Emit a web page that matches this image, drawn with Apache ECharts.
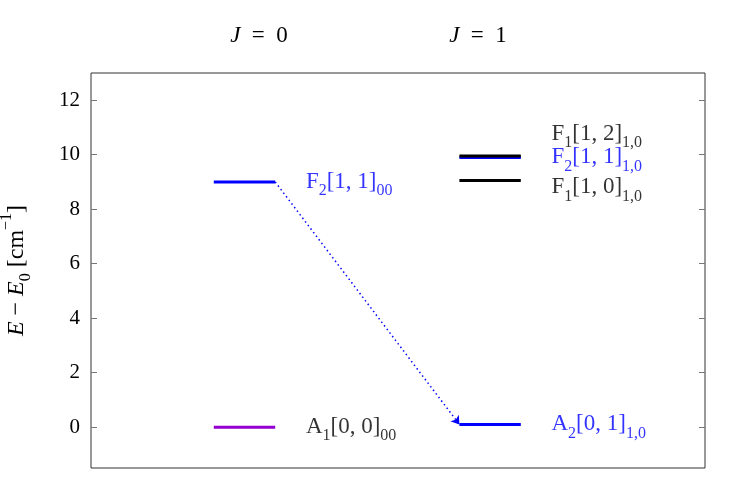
<!DOCTYPE html>
<html>
<head>
<meta charset="utf-8">
<script src="https://cdn.jsdelivr.net/npm/echarts@6/dist/echarts.min.js"></script>
<style>
  html, body { margin: 0; padding: 0; background: #fff; }
  #chart { width: 748px; height: 498px; }
</style>
</head>
<body>
<div id="chart"></div>
<script>
// energy levels (cm^-1) grouped by J
var levelJ = [0, 0, 1, 1, 1, 1];
var levelEnergy = [0.0, 9.0, 0.1, 9.05, 9.9, 9.95];
var levelSym = ['A', 'F', 'A', 'F', 'F', 'F'];
var levelSymSub = ['1', '2', '2', '1', '2', '1'];
var levelQuanta = ['[0, 0]', '[1, 1]', '[0, 1]', '[1, 0]', '[1, 1]', '[1, 2]'];
var levelSub = ['00', '00', '1,0', '1,0', '1,0', '1,0'];
var labelEnergy = [0.0, 9.0, 0.1, 8.8, 9.9, 10.75]; // shifted a bit where labels crowd
var transitions = [[1, 2]]; // F2[1,1]00 -> A2[0,1]1,0
var jLabels = ['0', '1'];
var yTicks = [0, 2, 4, 6, 8, 10, 12];

var levelColors = ['#9400d3', '#0000ff', '#0000ff', '#000000', '#0000ff', '#000000'];
var textColors = ['#000000', '#0000ff', '#0000ff', '#000000', '#0000ff', '#000000'];
var FONT = 'Liberation Serif';

var chart = echarts.init(document.getElementById('chart'));

function richFor(c) {
  return {
    m: { fontFamily: FONT, fontSize: 23, lineHeight: 24, color: c },
    s: { fontFamily: FONT, fontSize: 16, lineHeight: 16, color: c, verticalAlign: 'bottom', padding: [0, 0, -5, 0] }
  };
}

var series = [];
levelEnergy.forEach(function (e, i) {
  var x0 = 2 + 4 * levelJ[i];
  series.push({
    type: 'line',
    data: [[x0, e], [x0 + 1, e]],
    symbol: 'none',
    silent: true,
    animation: false,
    lineStyle: { color: levelColors[i], width: 3 }
  });
});

series.push({
  type: 'scatter',
  symbolSize: 0,
  silent: true,
  animation: false,
  data: levelEnergy.map(function (e, i) {
    return {
      value: [3.5 + 4 * levelJ[i], labelEnergy[i]],
      label: {
        show: true,
        position: 'right',
        distance: 0,
        color: textColors[i],
        formatter: '{m|' + levelSym[i] + '}{s|' + levelSymSub[i] + '}{m|' +
          levelQuanta[i] + '}{s|' + levelSub[i] + '}',
        rich: richFor(textColors[i])
      }
    };
  })
});

series.push({
  type: 'lines',
  coordinateSystem: 'cartesian2d',
  silent: true,
  animation: false,
  symbol: ['none', 'arrow'],
  symbolSize: 8,
  lineStyle: { color: '#0000ff', width: 1.5, type: [1.5, 3], opacity: 1 },
  data: transitions.map(function (t) {
    return {
      coords: [
        [3 + 4 * levelJ[t[0]], levelEnergy[t[0]]],
        [2 + 4 * levelJ[t[1]], levelEnergy[t[1]]]
      ]
    };
  })
});

chart.setOption({
  animation: false,
  grid: {
    left: 91, right: 43, top: 73, bottom: 30,
    outerBoundsMode: 'none',
    show: true, borderColor: '#333', borderWidth: 1
  },
  xAxis: {
    type: 'value', min: 0, max: 10,
    axisLine: { show: false }, axisTick: { show: false },
    axisLabel: { show: false }, splitLine: { show: false }
  },
  yAxis: [{
    type: 'value', min: -1.5, max: 13, position: 'left',
    axisLine: { show: false },
    splitLine: { show: false },
    axisTick: { inside: true, length: 6, customValues: yTicks, lineStyle: { color: '#777' } },
    axisLabel: { customValues: yTicks, fontFamily: FONT, fontSize: 21, color: '#000', margin: 11 },
    name: '{i|E} − {i|E}{s|0} [cm{p|−1}]',
    nameLocation: 'middle',
    nameRotate: 90,
    nameGap: 62,
    nameTextStyle: {
      fontFamily: FONT, fontSize: 24, color: '#000',
      rich: {
        i: { fontFamily: FONT, fontSize: 24, fontStyle: 'italic', color: '#000' },
        s: { fontFamily: FONT, fontSize: 16, color: '#000', verticalAlign: 'bottom', padding: [0, 0, -5, 0] },
        p: { fontFamily: FONT, fontSize: 16, color: '#000', verticalAlign: 'top', padding: [-6, 0, 0, 0] }
      }
    }
  }, {
    type: 'value', min: -1.5, max: 13, position: 'right',
    axisLine: { show: false },
    splitLine: { show: false },
    axisTick: { inside: true, length: 6, customValues: yTicks, lineStyle: { color: '#777' } },
    axisLabel: { show: false }
  }],
  graphic: jLabels.map(function (j, k) {
    return {
      type: 'text',
      x: k === 0 ? 259 : 478,
      y: 36,
      silent: true,
      style: {
        text: '{i|J}  =  ' + j,
        align: 'center',
        verticalAlign: 'middle',
        fill: '#000',
        font: '23px ' + FONT,
        rich: { i: { fontFamily: FONT, fontSize: 23, fontStyle: 'italic', color: '#000' } }
      }
    };
  }),
  series: series
});
</script>
</body>
</html>
